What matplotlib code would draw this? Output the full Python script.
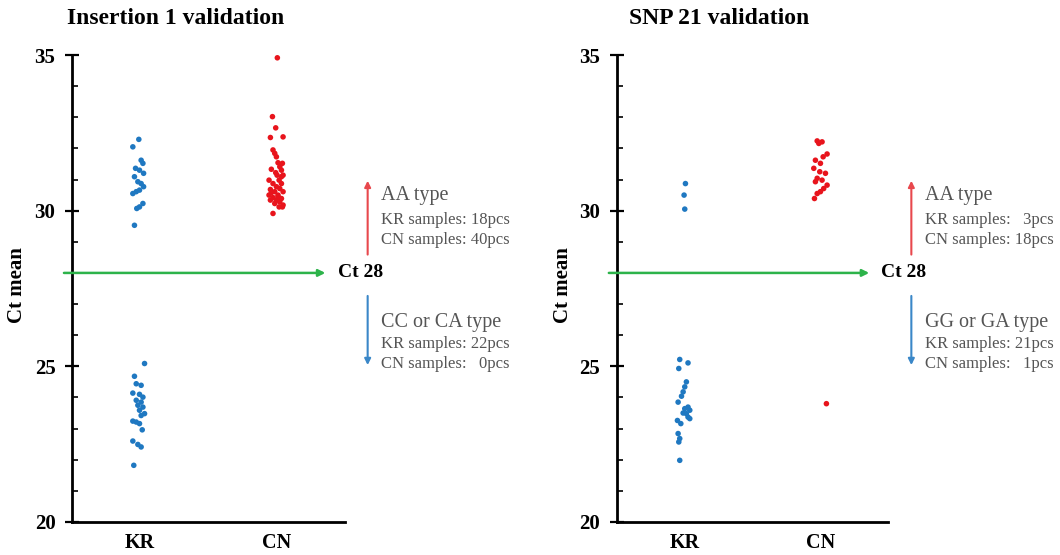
import matplotlib
matplotlib.use("Agg")
import matplotlib.pyplot as plt
import numpy as np

plt.rcParams['font.family'] = ['Liberation Serif', 'DejaVu Serif']

categories = ['KR', 'CN']

# Insertion 1 validation
ins_kr_high = [32.29, 32.05, 31.62, 31.52, 31.36, 31.30, 31.20, 31.09, 30.93, 30.87,
               30.77, 30.55, 30.61, 30.66, 30.23, 30.12, 30.07, 29.53]
ins_kr_high_dx = [-0.010, -0.054, 0.007, 0.020, -0.034, -0.005, 0.025, -0.042, -0.017, 0.007,
                  0.025, -0.054, -0.029, -0.005, 0.020, -0.005, -0.025, -0.042]
ins_kr_low = [25.09, 24.68, 24.44, 24.39, 24.14, 24.10, 24.01, 23.91, 23.85, 23.75, 23.69,
              23.59, 23.48, 23.42, 23.24, 23.21, 23.16, 22.96, 22.60, 22.49, 22.41, 21.82]
ins_kr_low_dx = [0.032, -0.042, -0.029, 0.007, -0.054, -0.005, 0.020, -0.029, 0.007, -0.017, 0.020,
                 -0.005, 0.032, 0.007, -0.054, -0.029, -0.005, 0.015, -0.054, -0.017, 0.007, -0.047]
ins_cn = [34.91, 33.02, 32.66, 32.35, 32.37, 31.95, 31.84, 31.73, 31.54, 31.52,
          31.41, 31.33, 31.30, 31.14, 31.14, 30.98, 30.98, 30.87, 30.87, 30.77,
          30.68, 30.71, 30.61, 30.61, 30.50, 30.50, 30.42, 30.39, 30.34, 30.34,
          30.28, 30.23, 30.18, 30.45, 30.58, 31.09, 31.22, 30.12, 29.91, 30.12]
ins_cn_dx = [0.007, -0.029, -0.005, -0.044, 0.049, -0.025, -0.012, 0.0, 0.012, 0.044,
             0.025, -0.037, 0.037, 0.005, 0.049, -0.054, 0.020, -0.025, 0.037, 0.0,
             -0.044, 0.025, -0.012, 0.049, -0.054, 0.012, -0.025, 0.037, 0.0, -0.044,
             0.025, -0.012, 0.049, 0.012, -0.037, 0.037, -0.005, 0.020, -0.025, 0.044]

# SNP 21 validation
snp_kr_high = [30.87, 30.50, 30.05]
snp_kr_high_dx = [0.005, -0.005, 0.0]
snp_kr_low = [25.22, 25.11, 24.93, 24.50, 24.34, 24.18, 24.04, 23.85, 23.69, 23.64, 23.59,
              23.50, 23.48, 23.37, 23.26, 23.16, 23.32, 22.84, 22.68, 22.57, 21.98]
snp_kr_low_dx = [-0.037, 0.024, -0.044, 0.012, 0.0, -0.012, -0.024, -0.049, 0.024, 0.0, 0.037,
                 -0.012, 0.012, 0.024, -0.054, -0.029, 0.037, -0.049, -0.037, -0.044, -0.037]
snp_cn_high = [32.24, 32.21, 32.16, 31.82, 31.73, 31.62, 31.52, 31.36, 31.25, 31.20,
               31.04, 30.98, 30.93, 30.82, 30.71, 30.55, 30.39, 30.61]
snp_cn_high_dx = [-0.024, 0.012, -0.012, 0.049, 0.020, -0.037, 0.0, -0.049, -0.005, 0.037,
                  -0.024, 0.012, -0.037, 0.049, 0.024, -0.024, -0.044, 0.0]
snp_cn_low = [23.8]
snp_cn_low_dx = [0.044]

cutoff = 28

panels = [
    {
        'title': 'Insertion 1 validation',
        'kr': (ins_kr_high + ins_kr_low, ins_kr_high_dx + ins_kr_low_dx),
        'cn': (ins_cn, ins_cn_dx),
        'up': ['AA type', 'KR samples: 18pcs', 'CN samples: 40pcs'],
        'down': ['CC or CA type', 'KR samples: 22pcs', 'CN samples:   0pcs'],
    },
    {
        'title': 'SNP 21 validation',
        'kr': (snp_kr_high + snp_kr_low, snp_kr_high_dx + snp_kr_low_dx),
        'cn': (snp_cn_high + snp_cn_low, snp_cn_high_dx + snp_cn_low_dx),
        'up': ['AA type', 'KR samples:   3pcs', 'CN samples: 18pcs'],
        'down': ['GG or GA type', 'KR samples: 21pcs', 'CN samples:   1pcs'],
    },
]

blue = '#1f78c1'
red = '#e8141c'
green = '#2db34a'
gray = '#555555'

fig = plt.figure(figsize=(10.6, 5.55), dpi=100)
axes_pos = [[0.068, 0.0595, 0.257, 0.8414], [0.582, 0.0595, 0.256, 0.8414]]
title_x = [176 / 1060, 719 / 1060]
ylabel_x = [17 / 1060, 563 / 1060]

for i, p in enumerate(panels):
    ax = fig.add_axes(axes_pos[i])
    kr_y, kr_dx = p['kr']
    cn_y, cn_dx = p['cn']
    ax.scatter(1 + np.array(kr_dx), kr_y, s=16, color=blue, edgecolors='none', zorder=3)
    ax.scatter(2 + np.array(cn_dx), cn_y, s=16, color=red, edgecolors='none', zorder=3)

    ax.set_xlim(0.5, 2.5)
    ax.set_ylim(20, 35)
    for s in ['top', 'right']:
        ax.spines[s].set_visible(False)
    for s in ['left', 'bottom']:
        ax.spines[s].set_linewidth(2)

    ax.set_yticks([20, 25, 30, 35])
    ax.set_yticks(np.arange(20, 36, 1), minor=True)
    ax.tick_params(axis='y', which='major', direction='inout', length=10, width=1.6,
                   labelsize=15, pad=7)
    ax.tick_params(axis='y', which='minor', direction='in', length=4, width=1.2)
    ax.set_xticks([1, 2])
    ax.set_xticklabels(categories)
    ax.tick_params(axis='x', length=0, labelsize=14.5, pad=8)
    for lab in ax.get_xticklabels() + ax.get_yticklabels():
        lab.set_fontweight('bold')

    # Ct 28 cutoff arrow
    ax.annotate('', xy=(2.38, cutoff), xytext=(0.42, cutoff), xycoords='data',
                arrowprops=dict(arrowstyle='-|>', color=green, lw=1.8, mutation_scale=10),
                annotation_clip=False, zorder=4)
    ax.text(2.45, cutoff, 'Ct 28', fontsize=14, fontweight='bold', va='center', ha='left',
            clip_on=False)

    ax.annotate('', xy=(2.67, 31.05), xytext=(2.67, 28.5), xycoords='data',
                arrowprops=dict(arrowstyle='-|>', color='#e8484d', lw=1.5, mutation_scale=9),
                annotation_clip=False)
    ax.annotate('', xy=(2.67, 24.95), xytext=(2.67, 27.35), xycoords='data',
                arrowprops=dict(arrowstyle='-|>', color='#3a87c8', lw=1.5, mutation_scale=9),
                annotation_clip=False)

    tx = 2.77
    for lines, ys in [(p['up'], [30.5, 29.69, 29.05]), (p['down'], [26.42, 25.73, 25.09])]:
        ax.text(tx, ys[0], lines[0], fontsize=14.5, color=gray, va='center', ha='left',
                clip_on=False)
        ax.text(tx, ys[1], lines[1], fontsize=12, color=gray, va='center', ha='left',
                clip_on=False)
        ax.text(tx, ys[2], lines[2], fontsize=12, color=gray, va='center', ha='left',
                clip_on=False)

    fig.text(title_x[i], 1 - 18 / 555, p['title'], fontsize=17, fontweight='bold',
             ha='center', va='center')
    fig.text(ylabel_x[i], 1 - 285 / 555, 'Ct mean', fontsize=15, fontweight='bold',
             rotation=90, ha='center', va='center')

fig.savefig('out.png', dpi=100)
